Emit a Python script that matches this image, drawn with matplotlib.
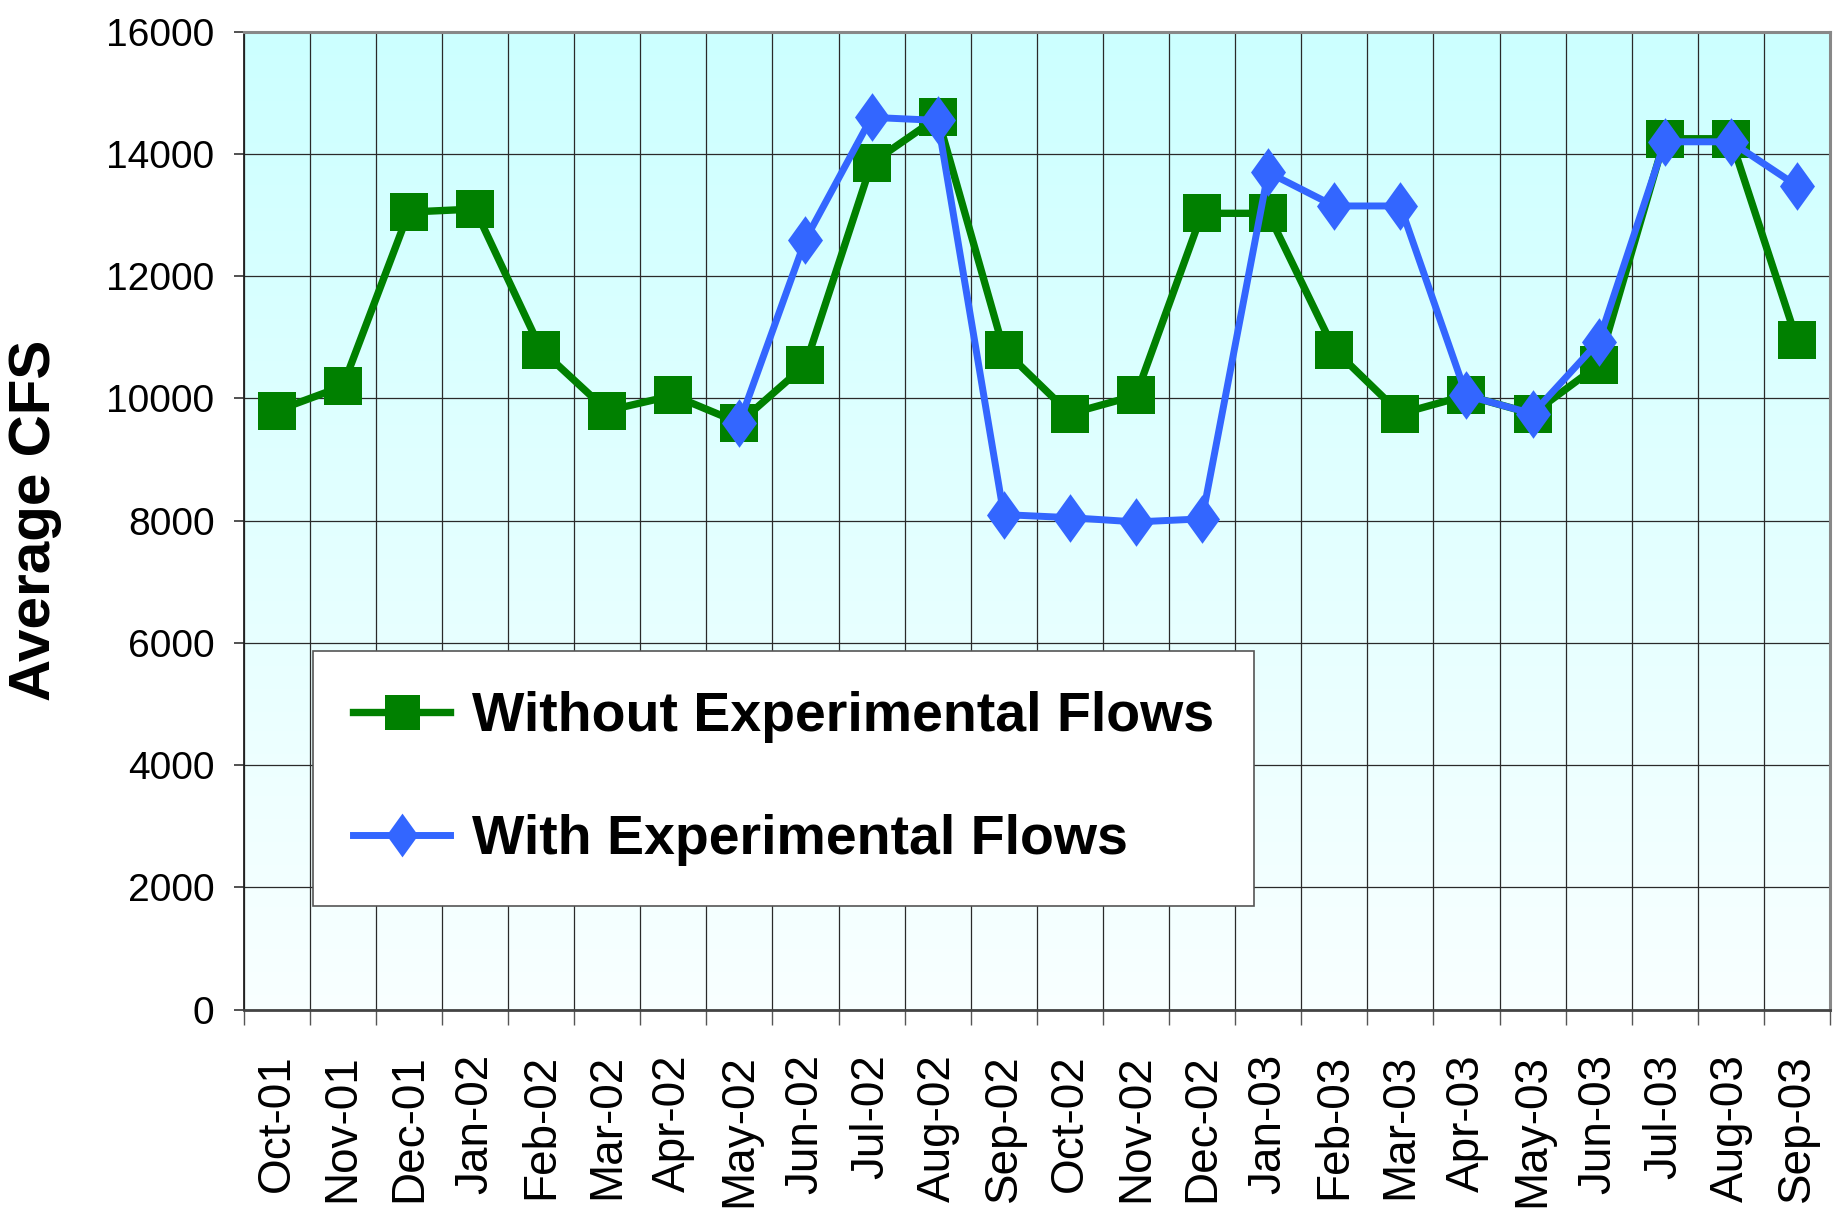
import matplotlib
matplotlib.use("Agg")
import matplotlib.pyplot as plt
import numpy as np
from matplotlib.ticker import FixedLocator, NullFormatter, FixedFormatter

plt.rcParams['font.family'] = ['Liberation Sans', 'DejaVu Sans']

months = ["Oct-01", "Nov-01", "Dec-01", "Jan-02", "Feb-02", "Mar-02", "Apr-02",
          "May-02", "Jun-02", "Jul-02", "Aug-02", "Sep-02", "Oct-02", "Nov-02",
          "Dec-02", "Jan-03", "Feb-03", "Mar-03", "Apr-03", "May-03", "Jun-03",
          "Jul-03", "Aug-03", "Sep-03"]

without_flows = [9800, 10200, 13050, 13100, 10800, 9800, 10050, 9600, 10550,
                 13850, 14600, 10800, 9750, 10050, 13030, 13030, 10800, 9750,
                 10050, 9750, 10550, 14250, 14250, 10950]

with_flows = [np.nan, np.nan, np.nan, np.nan, np.nan, np.nan, np.nan, 9600, 12600,
              14600, 14550, 8100, 8050, 7980, 8030, 13700, 13150, 13150,
              10050, 9750, 10930, 14200, 14200, 13480]

yticks = [0, 2000, 4000, 6000, 8000, 10000, 12000, 14000, 16000]

W, H = 1845, 1213
fig = plt.figure(figsize=(W / 100, H / 100), dpi=100)
left, right, top, bottom = 243.6, 1830, 31.8, 1009.6
ax = fig.add_axes([left / W, 1 - bottom / H, (right - left) / W, (bottom - top) / H])

# gradient background
grad = np.linspace(0, 1, 256).reshape(-1, 1)
c_top = np.array([0.80, 1.0, 1.0])
c_bot = np.array([0.975, 1.0, 1.0])
img = c_top[None, None, :] * (1 - grad[:, :, None]) + c_bot[None, None, :] * grad[:, :, None]
ax.imshow(img, extent=[0, 1, 0, 1], transform=ax.transAxes, aspect='auto', zorder=0)

x = np.arange(len(months))
diamond = [(0, 1), (0.72, 0), (0, -1), (-0.72, 0), (0, 1)]

ax.plot(x, without_flows, color='#008000', lw=5.3, marker='s', markersize=28,
        markeredgewidth=0, label='Without Experimental Flows', zorder=3)
ax.plot(x, with_flows, color='#3366FF', lw=5.0, marker=diamond, markersize=35,
        markeredgewidth=0, label='With Experimental Flows', zorder=4)

ax.set_xlim(-0.5, len(months) - 0.5)
ax.set_ylim(0, 16000)

ax.set_yticks(yticks)
ax.set_yticklabels([str(v) for v in yticks], fontsize=28)
ax.tick_params(axis='y', direction='out', length=7, width=1.2, pad=14, color='#333333')

ax.xaxis.set_major_locator(FixedLocator(np.arange(-0.5, len(months), 1.0)))
ax.xaxis.set_major_formatter(NullFormatter())
ax.xaxis.set_minor_locator(FixedLocator(x))
ax.xaxis.set_minor_formatter(FixedFormatter(months))
ax.tick_params(axis='x', which='major', direction='out', length=11, width=1.0, color='#555555')
ax.tick_params(axis='x', which='minor', length=0, pad=32, labelsize=33, labelrotation=90)

ax.grid(True, which='major', axis='both', color='#2a2a2a', lw=0.9, zorder=1)
ax.set_axisbelow(True)

for s in ['top', 'right']:
    ax.spines[s].set_color('#888888')
    ax.spines[s].set_linewidth(2.2)
ax.spines['left'].set_color('#222222')
ax.spines['left'].set_linewidth(1.3)
ax.spines['bottom'].set_color('#444444')
ax.spines['bottom'].set_linewidth(2.0)

ax.set_ylabel('Average CFS', fontsize=42, fontweight='bold', va='center')
ax.yaxis.set_label_coords(-0.1315, 0.5)

leg = ax.legend(loc='upper left', bbox_to_anchor=(0.0437, 0.3667), borderaxespad=0,
                prop={'size': 40, 'weight': 'bold'}, frameon=True, fancybox=False,
                handlelength=1.75, handletextpad=0.4, labelspacing=1.28,
                borderpad=0.72, markerscale=0.9)
leg.get_frame().set_edgecolor('#555555')
leg.get_frame().set_linewidth(1.2)
leg.get_frame().set_facecolor('white')
leg.get_frame().set_alpha(1)
leg.set_zorder(5)

fig.savefig('out.png', dpi=100)
